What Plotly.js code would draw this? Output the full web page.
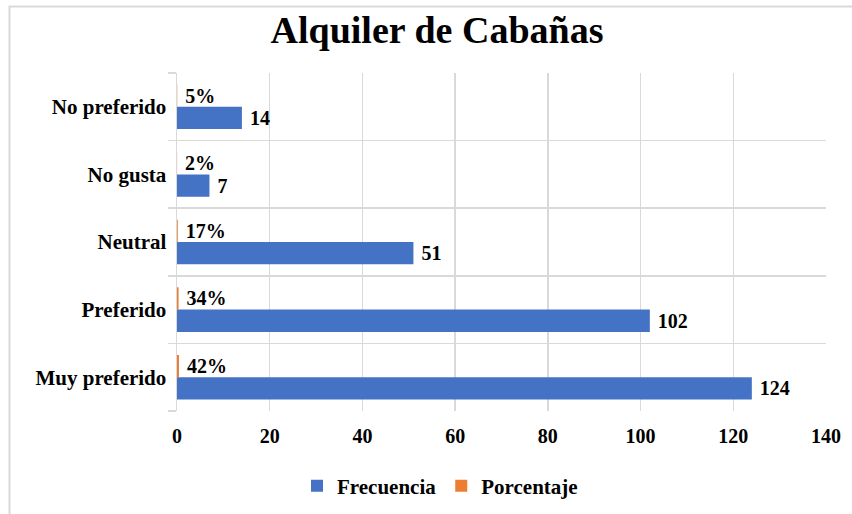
<!DOCTYPE html>
<html>
<head>
<meta charset="utf-8">
<script src="https://cdn.plot.ly/plotly-3.0.1.min.js"></script>
<style>html,body{margin:0;padding:0;background:#fff;}#chart{width:852px;height:514px;}</style>
</head>
<body>
<div id="chart"></div>
<script>
const categorias = ["Muy preferido", "Preferido", "Neutral", "No gusta", "No preferido"];
const frecuencia = [124, 102, 51, 7, 14];
const porcentaje = [0.42, 0.34, 0.17, 0.02, 0.05];
const serieNombres = ["Frecuencia", "Porcentaje"];
const xTicks = [0, 20, 40, 60, 80, 100, 120, 140];

const FONT = "'Times New Roman', 'Liberation Serif', serif";
const labelFont = {family: FONT, size: 20, color: "#000", weight: "bold"};

const traces = [
  {
    type: "bar", orientation: "h", name: serieNombres[0],
    y: categorias, x: frecuencia,
    marker: {color: "#4472C4"},
    texttemplate: "\u00a0%{x}", textposition: "outside",
    textfont: labelFont, cliponaxis: false, hoverinfo: "x+y"
  },
  {
    type: "bar", orientation: "h", name: serieNombres[1],
    y: categorias, x: porcentaje,
    marker: {color: "#ED7D31"},
    texttemplate: "\u00a0%{x:.0%}", textposition: "outside",
    textfont: labelFont, cliponaxis: false, hoverinfo: "x+y"
  }
];

const layout = {
  width: 852, height: 514,
  margin: {l: 177, r: 26, t: 73, b: 103},
  paper_bgcolor: "#fff", plot_bgcolor: "#fff",
  font: {family: FONT},
  barmode: "group", bargap: 0.34, bargroupgap: 0,
  title: {
    text: "Alquiler de Cabañas",
    font: {family: FONT, size: 38, color: "#000", weight: "bold"},
    x: 437 / 852, xref: "container", xanchor: "center",
    y: 1 - 30 / 514, yref: "container", yanchor: "middle"
  },
  xaxis: {
    range: [0, 140], tickvals: xTicks, ticktext: xTicks.map(String),
    showgrid: true, gridcolor: "#d9d9d9", gridwidth: 1.5,
    zeroline: false, showline: false, ticks: "",
    ticklabelstandoff: 11,
    tickfont: {family: FONT, size: 20, color: "#000", weight: "bold"},
    fixedrange: true
  },
  yaxis: {
    type: "category", categoryorder: "array", categoryarray: categorias,
    tickson: "boundaries", ticks: "outside", ticklen: 8, tickcolor: "#d9d9d9", tickwidth: 1.5,
    showgrid: true, gridcolor: "#d9d9d9", gridwidth: 1.5,
    showline: true, linecolor: "#d9d9d9", linewidth: 1.5,
    zeroline: false, ticklabelstandoff: 5,
    tickfont: {family: FONT, size: 21, color: "#000", weight: "bold"},
    fixedrange: true
  },
  legend: {
    orientation: "h", xref: "container", yref: "container",
    x: 440 / 852, xanchor: "center", y: 1 - 486 / 514, yanchor: "middle",
    font: {family: FONT, size: 21, color: "#000", weight: "bold"},
    itemwidth: 30, traceorder: "normal"
  },
  shapes: [{
    type: "rect", xref: "paper", yref: "paper",
    x0: (9.5 - 177) / 649, x1: (1000 - 177) / 649,
    y0: (411 - 600) / 338, y1: (411 - 6.5) / 338,
    line: {color: "#d9d9d9", width: 2}, fillcolor: "rgba(0,0,0,0)", layer: "below"
  }],
  showlegend: true
};

Plotly.newPlot("chart", traces, layout, {displayModeBar: false, staticPlot: true});
</script>
</body>
</html>
